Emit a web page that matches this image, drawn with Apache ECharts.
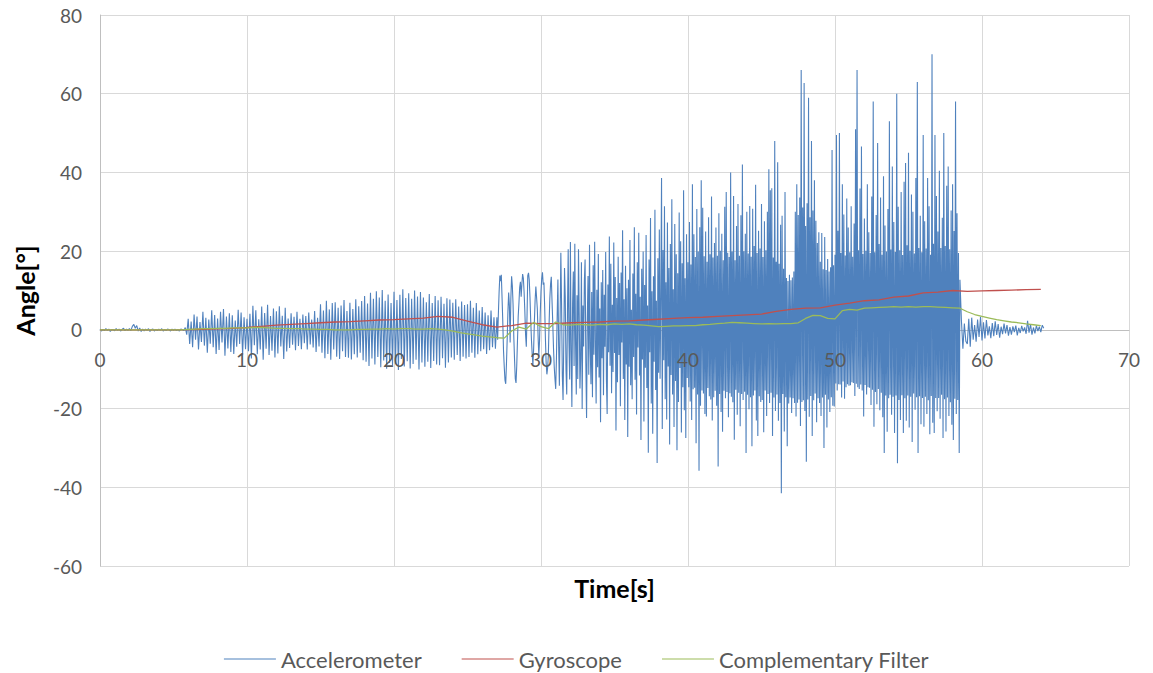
<!DOCTYPE html>
<html><head><meta charset="utf-8">
<script src="https://cdn.jsdelivr.net/npm/echarts@6/dist/echarts.min.js"></script>
<style>html,body{margin:0;padding:0;background:#fff}#c{width:1153px;height:673px}</style>
</head><body><div id="c"></div>
<script>
// Accelerometer angle, part 1: 0.0 s to 26.9 s, every 0.1 s (one row = one second)
const accelLowStart = 0, accelLowStep = 0.1;
const accelLow = [
0.2,-0.3,0.1,-0.2,0.3,-0.1,0.2,-0.4,0.1,0.0,
-0.2,0.3,-0.1,0.2,-0.3,0.1,0.4,-0.2,0.2,-0.1,
0.3,-0.2,0.9,1.4,0.4,1.1,-0.3,0.5,-0.4,0.2,
-0.3,0.2,-0.1,0.3,-0.4,0.1,0.2,-0.3,0.1,-0.2,
0.2,-0.1,0.3,-0.3,0.1,-0.2,0.2,0.0,-0.3,0.2,
-0.1,0.2,-0.2,0.1,-0.3,0.2,0.1,-0.2,0.6,-1.2,
2.8,-3.6,2.1,-4.4,3.9,-2.5,3.4,-5.0,2.0,-3.1,
4.6,-4.0,3.1,-5.8,2.6,-3.5,5.0,-4.4,3.8,-6.1,
2.9,-5.1,4.6,-3.2,5.3,-6.6,3.4,-4.7,4.2,-5.6,
3.7,-6.1,2.4,-4.3,5.1,-3.6,4.4,-6.4,3.2,-4.9,
2.8,-5.4,4.1,-7.3,6.1,-3.9,5.0,-6.2,2.7,-5.0,
5.9,-7.6,4.3,-4.8,6.4,-6.4,3.5,-5.3,5.4,-7.0,
4.7,-6.0,6.0,-4.2,3.6,-7.4,5.6,-5.5,2.9,-4.6,
4.2,-3.8,3.3,-5.2,4.6,-4.1,2.8,-4.9,3.9,-3.4,
3.5,-5.0,4.4,-3.7,2.6,-4.5,4.8,-5.6,3.1,-4.2,
6.5,-5.8,4.9,-7.2,7.4,-6.1,5.2,-7.6,6.8,-5.0,
7.0,-6.8,5.6,-7.4,6.2,-5.4,7.6,-6.9,4.8,-7.1,
6.9,-7.5,5.3,-6.2,7.8,-7.0,6.0,-5.8,7.3,-7.7,
8.6,-8.1,6.7,-9.2,9.4,-7.3,7.9,-8.8,9.8,-6.9,
8.2,-9.5,10.1,-7.8,7.4,-9.9,9.0,-8.4,6.8,-9.1,
9.7,-8.6,7.6,-10.2,8.9,-7.4,10.3,-9.3,8.1,-8.0,
9.3,-9.8,7.9,-8.7,10.0,-7.6,8.5,-10.1,9.6,-8.3,
8.2,-9.4,7.0,-8.1,9.1,-9.7,6.8,-7.9,8.6,-8.8,
7.5,-9.0,8.4,-7.2,6.6,-9.6,8.0,-8.3,7.7,-7.0,
6.9,-7.6,7.8,-6.4,5.9,-7.9,7.2,-6.8,6.3,-7.3,
6.5,-6.9,7.4,-5.8,5.6,-7.1,6.8,-6.2,4.9,-5.4,
5.8,-4.9,4.4,-6.1,3.7,-5.2,4.9,-4.4,3.2,-4.8
];
// Accelerometer angle, part 2: 27.0 s to 58.45 s, every 0.05 s (one row = one second)
const accelHighStart = 27, accelHighStep = 0.05;
const accelHigh = [
3.2,-2.5,4.1,9.6,13.8,12.4,14.0,8.2,2.1,-5.3,-9.4,-12.8,-13.7,-8.6,-2.4,4.7,9.5,6.1,-3.2,8.1,
13.6,11.2,6.4,-1.8,-7.5,-12.4,-13.5,-9.1,-2.7,3.5,6.9,10.8,12.2,8.4,11.7,14.2,13.1,9.6,4.8,-1.2,
-4.3,3.6,13.8,14.5,12.7,8.3,2.4,-2.5,-6.1,-8.9,-4.7,2.1,7.6,11.0,8.2,5.3,-1.4,-6.6,-2.9,4.4,
9.8,13.1,14.6,11.5,12.0,5.8,-2.2,-8.4,-11.3,-9.7,-6.4,1.5,8.0,11.6,13.5,7.3,1.8,-4.6,-9.4,-12.5,
-15.0,-7.2,3.6,12.8,-4.0,-14.2,2.5,19.6,6.4,-11.6,-17.8,-3.0,15.7,8.3,-9.9,-16.4,4.1,20.5,-2.7,-12.6,
22.3,-5.1,-19.6,6.7,14.8,-9.2,21.9,-3.2,-16.4,8.8,-12.5,20.5,4.1,-14.9,-7.3,17.2,-20.1,6.2,-4.2,12.4,
17.9,-8.5,-22.4,3.1,13.7,-11.4,21.6,-4.7,-13.8,9.6,-17.1,16.4,-6.3,22.4,-2.6,-18.7,10.2,-9.5,19.3,-12.1,
5.4,-23.5,12.1,-7.2,15.2,-16.6,8.9,-4.3,19.8,-12.6,-21.4,11.5,-5.7,23.7,-9.1,16.8,-16.1,6.4,-10.7,22.2,
-5.9,13.4,-25.6,8.1,-13.3,18.6,-6.4,11.9,-19.4,14.6,-3.2,25.3,-12.5,7.8,-22.9,16.3,-8.8,10.6,-27.2,12.7,
-9.4,22.8,-14.1,5.1,-17.6,14.3,-6.9,26.1,-12.7,9.2,-21.5,17.2,-4.5,24.7,-11.6,8.4,-28.0,15.5,-7.5,19.9,
-23.3,11.4,-9.6,24.1,-14.8,6.2,-31.2,17.9,-5.7,28.4,-18.7,9.8,-26.4,13.6,-8.1,30.5,-15.3,7.4,-33.8,18.2,
-10.9,25.5,-12.4,8.6,38.6,-25.2,20.3,-7.7,31.4,-17.6,12.1,-22.8,27.3,-9.3,15.7,-29.1,21.8,-11.5,33.2,-16.4,
10.3,-24.7,26.9,-13.0,19.2,-30.6,14.4,-18.3,29.8,-9.7,22.5,-26.1,16.9,-14.6,35.5,-20.4,13.1,-27.5,24.3,-12.2,
17.2,-14.6,27.4,-18.2,16.6,-22.9,37.0,-15.1,24.3,-14.7,18.5,-28.8,30.7,-16.4,19.9,-35.8,26.1,-19.3,38.0,-15.4,
31.0,-16.2,18.7,-21.4,25.0,-22.0,17.3,-14.8,28.6,-16.9,19.2,-17.7,33.9,-23.0,18.4,-17.1,22.1,-15.5,26.0,-19.3,
18.8,-34.7,29.6,-16.3,20.1,-20.9,24.4,-25.9,17.7,-15.5,31.3,-17.4,35.0,-15.8,19.6,-22.2,18.5,-16.1,40.0,-17.0,
19.9,-18.4,34.0,-27.9,17.7,-15.2,26.4,-21.6,32.0,-16.0,18.8,-24.5,29.1,-16.3,42.0,-17.8,20.0,-15.7,24.4,-31.3,
30.0,-16.5,19.4,-20.2,31.5,-17.1,18.6,-29.6,30.8,-16.7,21.3,-15.4,36.9,-23.0,19.5,-27.0,25.2,-16.9,20.7,-18.3,
32.0,-17.8,18.5,-26.0,27.6,-15.4,20.2,-21.9,30.0,-16.3,40.8,-18.6,35.5,-16.0,36.0,-27.0,18.4,-17.2,48.0,-20.6,
17.3,-16.4,42.6,-23.1,16.8,-18.6,26.7,-41.5,29.0,-16.3,15.5,-25.8,35.0,-17.1,13.2,-29.6,12.4,-18.7,14.0,-17.2,
12.6,-21.1,13.3,-17.4,14.8,-18.6,30.0,-22.0,37.0,-18.5,29.2,-17.7,33.6,-24.4,66.0,-18.3,31.1,-17.9,62.7,-20.6,
26.4,-33.5,32.2,-17.7,59.0,-22.1,28.6,-16.8,48.0,-27.0,30.3,-17.9,38.0,-16.2,27.7,-23.5,22.1,-17.4,24.8,-18.6,
17.3,-21.9,24.6,-17.2,15.4,-30.0,23.6,-16.5,15.2,-24.8,18.0,-17.7,14.8,-20.9,15.9,-17.1,45.7,-19.3,16.4,-19.5,
19.1,-13.6,49.5,-15.4,25.2,-13.8,50.0,-13.9,19.5,-17.2,37.0,-13.1,29.3,-17.5,18.9,-14.6,33.4,-13.8,26.0,-14.2,
19.7,-14.1,31.4,-13.3,18.6,-13.5,27.0,-16.8,51.0,-13.7,66.0,-14.6,20.2,-15.0,35.9,-13.9,46.6,-15.4,19.3,-22.0,
28.3,-14.0,20.1,-16.4,37.0,-14.6,24.8,-14.7,19.5,-19.1,33.9,-15.2,58.0,-24.6,19.7,-15.8,29.2,-18.9,47.5,-15.0,
21.8,-20.4,33.6,-16.0,19.1,-22.2,39.0,-31.3,26.5,-16.7,19.9,-25.9,30.7,-17.4,53.0,-16.5,20.4,-21.6,41.5,-17.0,
27.4,-26.2,19.8,-16.7,60.0,-33.9,31.3,-17.8,20.2,-22.9,35.0,-16.6,19.0,-26.2,37.6,-17.4,42.4,-23.1,21.5,-16.7,
45.0,-24.8,20.1,-17.0,34.4,-28.5,30.0,-16.2,19.4,-20.3,38.6,-17.1,63.0,-31.3,20.8,-16.9,29.0,-24.0,19.7,-17.3,
49.5,-24.6,27.6,-17.0,20.7,-21.4,38.6,-17.9,31.4,-26.5,19.1,-16.8,70.0,-23.6,21.9,-26.2,49.5,-17.3,34.0,-20.7,
25.0,-17.3,40.4,-22.6,20.8,-16.5,28.5,-27.5,50.0,-17.6,21.3,-25.8,36.6,-17.2,41.5,-21.9,20.5,-18.4,30.3,-24.1,
37.0,-28.0,25.1,-17.5,58.0,-21.4,29.6,-17.8,19.5,-31.3
];
// Accelerometer angle, part 3: 58.5 s to 64.2 s, every 0.1 s
const accelTailStart = 58.5, accelTailStep = 0.1;
const accelTail = [
12.7,2.4,-4.8,1.6,-2.9,
-3.6,2.8,-4.3,3.1,-2.5,1.2,-3.0,2.6,-1.8,3.3,
-2.7,1.9,-2.2,2.5,-1.4,0.9,-2.1,1.7,-1.6,2.2,
-1.3,1.5,-2.0,0.8,-1.1,1.6,-0.9,1.2,-1.5,0.7,
-1.2,0.9,-0.6,1.1,-1.4,0.5,-0.8,1.0,-0.4,0.6,
-1.0,2.3,-0.7,1.4,-1.2,0.6,-0.9,1.1,-0.3,0.8,
-0.6,1.2,0.4
];
// Gyroscope angle, every 1 s from 0 s
const gyroStep = 1;
const gyro = [0,0,0,0,0,0,0.05,0.15,0.25,0.4,
0.6,0.9,1.2,1.4,1.6,1.8,2.0,2.1,2.3,2.5,
2.6,2.8,3.0,3.4,3.2,2.2,1.3,0.7,1.1,1.7,
1.6,1.6,1.8,1.9,2.0,2.2,2.3,2.5,2.7,2.9,
3.1,3.2,3.4,3.6,3.8,4.0,4.7,5.2,5.5,5.6,
6.3,6.8,7.4,7.6,8.3,8.6,9.4,9.6,10.0,9.8,
9.9,10.0,10.1,10.2,10.3];
// Complementary filter angle, every 0.5 s from 0 s
const compStep = 0.5;
const comp = [0,0,0,0,0,0,0,0,0,0,0,0,
0.1,0.2,0.3,0.3,0.4,0.4,0.5,0.5,
0.5,0.6,0.6,0.5,0.4,0.4,0.3,0.3,0.2,0.2,
0.1,0.1,0.0,0.0,0.0,0.1,0.1,0.2,0.2,0.3,
0.2,0.3,0.3,0.2,0.2,0.3,0.2,0.0,-0.3,-0.7,
-1.0,-1.3,-1.6,-1.8,-2.0,-2.1,-0.3,0.7,0.2,1.9,
0.8,0.3,2.0,1.3,1.2,1.4,1.3,1.2,1.4,1.3,
1.5,1.4,1.5,1.3,1.2,1.0,0.8,0.9,1.0,1.0,
1.1,1.1,1.3,1.4,1.6,1.7,1.9,1.8,1.7,1.6,
1.5,1.6,1.5,1.6,1.6,1.8,2.9,3.7,3.6,2.9,
2.8,4.9,5.2,5.0,5.5,5.6,5.7,5.8,5.9,5.8,
5.9,5.8,5.9,5.9,5.8,5.7,5.6,5.5,4.6,3.9,
3.4,3.0,2.6,2.3,2.0,1.8,1.5,1.3,1.1];

const seriesNames = ['Accelerometer','Gyroscope','Complementary Filter'];
const seriesColors = ['#4F81BD','#C0504D','#9BBB59'];
const xRange = [0, 70, 10];
const yRange = [-60, 80, 20];
const xTitle = 'Time[s]';
const yTitle = 'Angle[°]';

function pairs(arr, start, step){ return arr.map((v,i)=>[Math.round((start + i*step)*1000)/1000, v]); }
const accelData = pairs(accelLow, accelLowStart, accelLowStep)
  .concat(pairs(accelHigh, accelHighStart, accelHighStep))
  .concat(pairs(accelTail, accelTailStart, accelTailStep));

const W = 1153, H = 673;
const G = {left:100, right:24, top:15, bottom:107};
const plotH = H - G.top - G.bottom;
const plotCX = G.left + (W - G.left - G.right) / 2;
const plotCY = G.top + plotH / 2;
// move the time axis (line + labels) up to the zero line of the angle axis
const xAxisOffset = -plotH * (0 - yRange[0]) / (yRange[1] - yRange[0]);

const FONT = 'Lato, "Open Sans", sans-serif';
const chart = echarts.init(document.getElementById('c'), null, {renderer:'svg'});
chart.setOption({
  animation:false,
  backgroundColor:'#ffffff',
  textStyle:{fontFamily:FONT},
  grid:{left:G.left, right:G.right, top:G.top, bottom:G.bottom, containLabel:false},
  xAxis:[
    {type:'value', min:xRange[0], max:xRange[1], interval:xRange[2], position:'bottom', offset:xAxisOffset,
     axisLine:{show:true, onZero:false, lineStyle:{color:'#bfbfbf', width:1}},
     axisTick:{show:false}, axisLabel:{show:false},
     splitLine:{show:true, lineStyle:{color:'#d9d9d9', width:1}}},
    {type:'value', min:xRange[0], max:xRange[1], interval:xRange[2], position:'bottom', offset:xAxisOffset, z:10,
     axisLine:{show:false, onZero:false}, axisTick:{show:false}, splitLine:{show:false},
     axisLabel:{color:'#595959', fontSize:19, margin:20, fontFamily:FONT}}
  ],
  yAxis:{type:'value', min:yRange[0], max:yRange[1], interval:yRange[2],
    axisLine:{show:true, onZero:false, lineStyle:{color:'#bfbfbf', width:1}},
    axisTick:{show:false},
    axisLabel:{color:'#595959', fontSize:19, margin:18, fontFamily:FONT},
    splitLine:{show:true, lineStyle:{color:'#d9d9d9', width:1}}},
  legend:{left:'center', top:643, itemWidth:52, itemHeight:14, itemGap:40,
    icon:'path://M0,6.5 L52,6.5 L52,7.5 L0,7.5 Z',
    textStyle:{color:'#595959', fontSize:22, fontFamily:FONT},
    data:seriesNames},
  graphic:[
    {type:'text', x:plotCX, y:588, style:{text:xTitle, font:'bold 25px '+FONT, fill:'#000', align:'center', verticalAlign:'middle'}},
    {type:'text', x:25, y:plotCY, rotation:Math.PI/2, style:{text:yTitle, font:'bold 25px '+FONT, fill:'#000', align:'center', verticalAlign:'middle'}}
  ],
  series:[
    {name:seriesNames[0], type:'line', data:accelData, symbol:'none', showSymbol:false,
     lineStyle:{color:seriesColors[0], width:1.1}, itemStyle:{color:seriesColors[0]}},
    {name:seriesNames[1], type:'line', data:pairs(gyro, 0, gyroStep), symbol:'none', showSymbol:false,
     lineStyle:{color:seriesColors[1], width:1.3}, itemStyle:{color:seriesColors[1]}},
    {name:seriesNames[2], type:'line', data:pairs(comp, 0, compStep), symbol:'none', showSymbol:false,
     lineStyle:{color:seriesColors[2], width:1.3}, itemStyle:{color:seriesColors[2]}}
  ]
});
</script>
</body></html>
